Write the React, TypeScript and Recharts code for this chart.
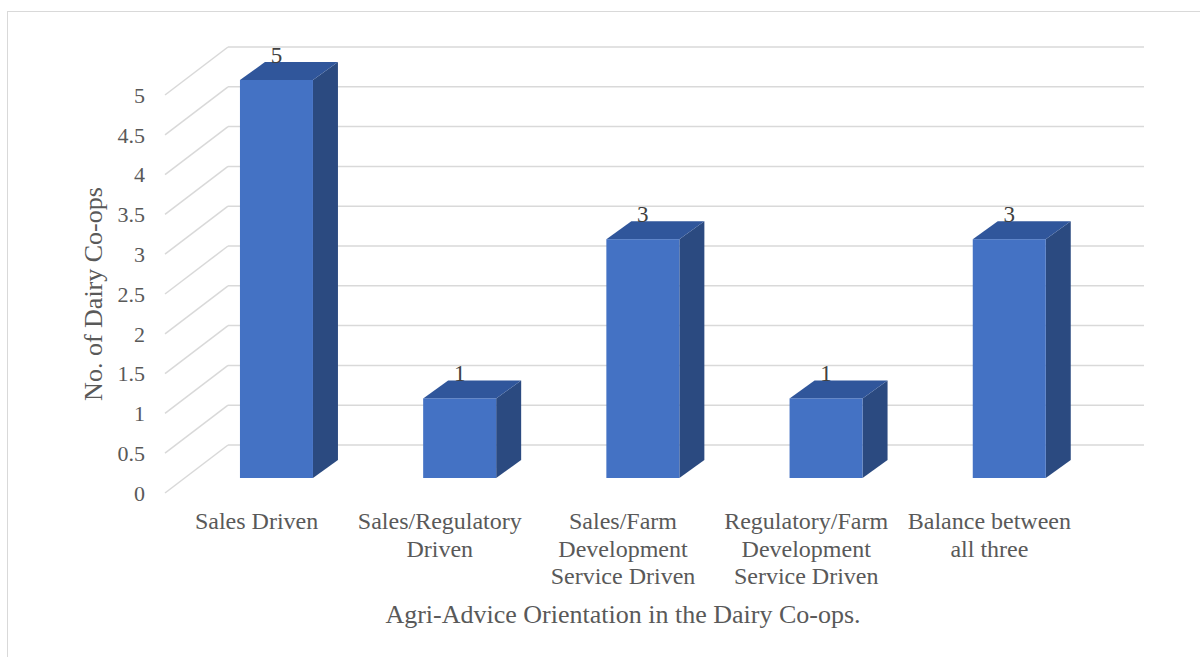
import React from "react";
import { Bar, BarChart, CartesianGrid, Label, LabelList, XAxis, YAxis } from "recharts";

const categories = [
  "Sales Driven",
  "Sales/Regulatory\nDriven",
  "Sales/Farm\nDevelopment\nService Driven",
  "Regulatory/Farm\nDevelopment\nService Driven",
  "Balance between\nall three",
];
const coopCounts = [5, 1, 3, 1, 3];
const yTicks = [0, 0.5, 1, 1.5, 2, 2.5, 3, 3.5, 4, 4.5, 5];

const data = categories.map((category, i) => ({ category, count: coopCounts[i] }));

const FONT = "'Liberation Serif', 'Times New Roman', serif";
const TEXT = "#595959";
const GRID = "#d9d9d9";

// 3d offsets: back wall relative to the front plane, bar front face and bar depth
const WALL_DX = 63;
const WALL_DY = 48;
const BAR_DX = 20;
const BAR_DY = 15;
const DEPTH_DX = 25;
const DEPTH_DY = 18;

function GridLine(props: any) {
  const { x1, x2, y1 } = props;
  return (
    <g>
      <line x1={x1} y1={y1} x2={x1 + WALL_DX} y2={y1 - WALL_DY} stroke={GRID} strokeWidth={1.5} />
      <line
        x1={x1 + WALL_DX}
        y1={y1 - WALL_DY}
        x2={x2 + WALL_DX}
        y2={y1 - WALL_DY}
        stroke={GRID}
        strokeWidth={1.5}
      />
    </g>
  );
}

function Column(props: any) {
  const { x, y, width, height } = props;
  const fx = x + BAR_DX;
  const fy = y - BAR_DY;
  const top = `${fx},${fy} ${fx + DEPTH_DX},${fy - DEPTH_DY} ${fx + width + DEPTH_DX},${fy - DEPTH_DY} ${fx + width},${fy}`;
  const side = `${fx + width},${fy} ${fx + width + DEPTH_DX},${fy - DEPTH_DY} ${fx + width + DEPTH_DX},${fy + height - DEPTH_DY} ${fx + width},${fy + height}`;
  return (
    <g>
      <polygon points={side} fill="#2b4a80" />
      <polygon points={top} fill="#30569b" />
      <rect x={fx} y={fy} width={width} height={height} fill="#4472c4" />
    </g>
  );
}

function ValueLabel(props: any) {
  const { x, y, width, value } = props;
  return (
    <text
      x={x + BAR_DX + width / 2}
      y={y - BAR_DY - 17}
      textAnchor="middle"
      fontSize={23}
      fontFamily={FONT}
      fill="#404040"
    >
      {value}
    </text>
  );
}

function CategoryTick(props: any) {
  const { x, y, payload } = props;
  const lines = String(payload.value).split("\n");
  return (
    <text textAnchor="middle" fontSize={24} fontFamily={FONT} fill={TEXT}>
      {lines.map((line, i) => (
        <tspan key={i} x={x} y={y + 36 + i * 27.5}>
          {line}
        </tspan>
      ))}
    </text>
  );
}

export default function App() {
  return (
    <div
      style={{
        position: "absolute",
        left: 0,
        top: 0,
        width: 1200,
        height: 657,
        overflow: "hidden",
        background: "#fff",
      }}
    >
      <div
        style={{
          position: "absolute",
          left: 7,
          top: 11,
          width: 1300,
          height: 800,
          border: `1.5px solid ${GRID}`,
        }}
      />
      <div style={{ position: "absolute", left: 0, top: 0 }}>
        <BarChart
          width={1200}
          height={657}
          data={data}
          margin={{ top: 95, right: 119, bottom: 64, left: 105 }}
          barCategoryGap="30%"
        >
          <CartesianGrid vertical={false} horizontal={(p: any) => <GridLine key={p.key} {...p} />} />
          <XAxis
            dataKey="category"
            interval={0}
            height={100}
            tickLine={false}
            axisLine={false}
            tickSize={0}
            tickMargin={0}
            tick={CategoryTick}
          >
            <Label
              content={(p: any) => {
                const vb = p.viewBox;
                return (
                  <text
                    x={vb.x + vb.width / 2}
                    y={vb.y + 130}
                    textAnchor="middle"
                    fontSize={26}
                    fontFamily={FONT}
                    fill={TEXT}
                  >
                    Agri-Advice Orientation in the Dairy Co-ops.
                  </text>
                );
              }}
            />
          </XAxis>
          <YAxis
            domain={[0, 5]}
            ticks={yTicks}
            width={60}
            tickLine={false}
            axisLine={false}
            tickSize={0}
            tickMargin={20}
            tick={{ fontSize: 22, fontFamily: FONT, fill: TEXT }}
          >
            <Label
              content={(p: any) => {
                const vb = p.viewBox;
                const cx = vb.x - 12;
                const cy = vb.y + vb.height / 2;
                return (
                  <text
                    x={cx}
                    y={cy}
                    transform={`rotate(-90 ${cx} ${cy})`}
                    textAnchor="middle"
                    dominantBaseline="central"
                    fontSize={26}
                    fontFamily={FONT}
                    fill={TEXT}
                  >
                    No. of Dairy Co-ops
                  </text>
                );
              }}
            />
          </YAxis>
          <Bar dataKey="count" shape={Column} isAnimationActive={false}>
            <LabelList dataKey="count" content={ValueLabel} />
          </Bar>
        </BarChart>
      </div>
    </div>
  );
}
